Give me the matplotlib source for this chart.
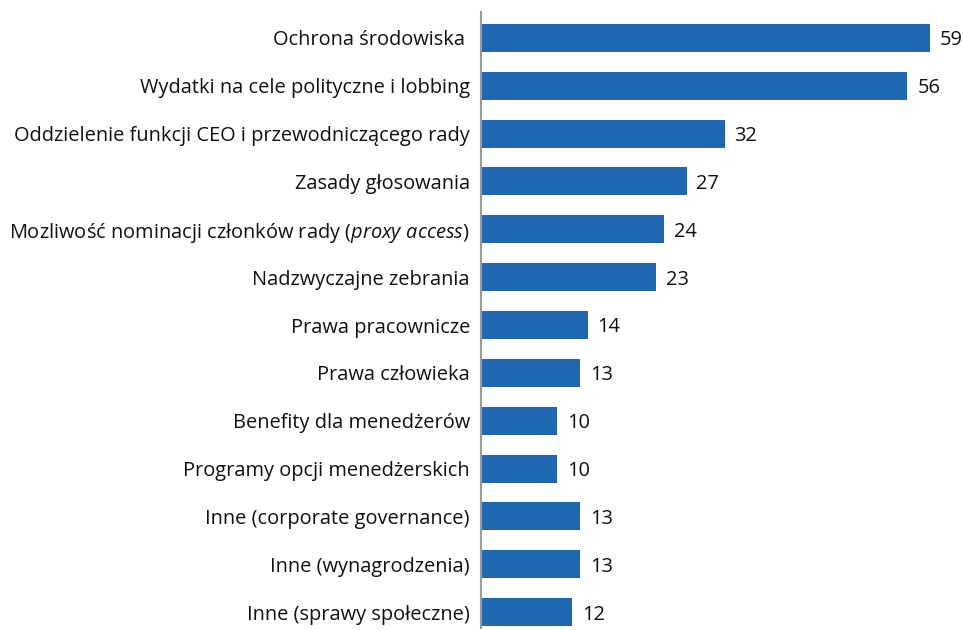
import matplotlib.pyplot as plt

plt.rcParams['font.family'] = ['Open Sans', 'DejaVu Sans']
plt.rcParams['mathtext.fontset'] = 'custom'
plt.rcParams['mathtext.it'] = 'Open Sans:italic'
plt.rcParams['mathtext.rm'] = 'Open Sans'

categories = [
    "Ochrona środowiska ",
    "Wydatki na cele polityczne i lobbing",
    "Oddzielenie funkcji CEO i przewodniczącego rady",
    "Zasady głosowania",
    "Mozliwość nominacji członków rady ($\\it{proxy\\ access}$)",
    "Nadzwyczajne zebrania",
    "Prawa pracownicze",
    "Prawa człowieka",
    "Benefity dla menedżerów",
    "Programy opcji menedżerskich",
    "Inne (corporate governance)",
    "Inne (wynagrodzenia)",
    "Inne (sprawy społeczne)",
]
values = [59, 56, 32, 27, 24, 23, 14, 13, 10, 10, 13, 13, 12]

bar_color = "#1f67b1"

fig = plt.figure(figsize=(9.63, 6.3), dpi=100)
ax = fig.add_axes([481 / 963, 2 / 630, 482 / 963, 616 / 630])

pos = list(range(len(values)))
ax.barh(pos, values, height=0.585, color=bar_color)
for y, v in zip(pos, values):
    ax.text(v + 1.3, y + 0.05, str(v), va="center", ha="left", fontsize=14.4, color="#111111")

ax.set_xlim(0, 63.3)
ax.set_ylim(len(values) - 1 + 0.33, -0.54)
ax.set_yticks(pos)
ax.set_yticklabels(categories, fontsize=14.4, color="#111111")
ax.tick_params(axis="y", length=0, pad=8)
ax.set_xticks([])
for s in ["top", "right", "bottom"]:
    ax.spines[s].set_visible(False)
ax.spines["left"].set_color("#999999")
ax.spines["left"].set_linewidth(1.5)

fig.savefig("out.png", dpi=100)
